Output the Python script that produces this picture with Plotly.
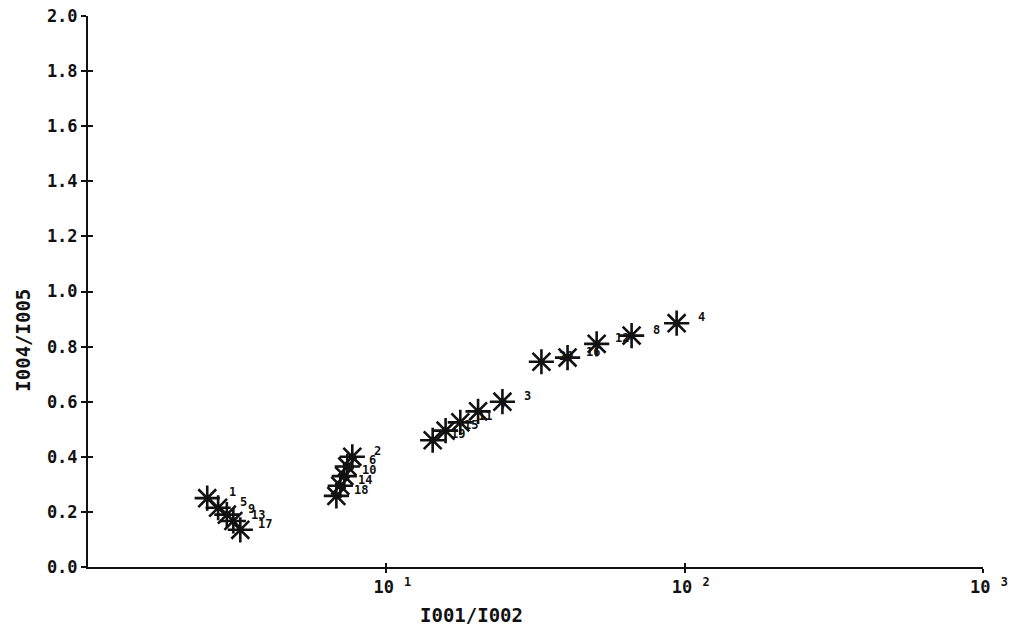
import numpy as np
import plotly.graph_objects as go

# data
labels = ["1", "5", "9", "13", "17",
          "2", "6", "10", "14", "18",
          "19", "15", "11", "7", "3",
          "20", "16", "12", "8", "4"]
ratio_x = [2.51, 2.73, 2.92, 3.07, 3.24,
           7.69, 7.40, 7.23, 7.01, 6.80,
           14.3, 15.8, 17.7, 20.3, 24.5,
           33.1, 40.5, 50.7, 66.4, 94.0]
ratio_y = [0.25, 0.215, 0.19, 0.167, 0.135,
           0.40, 0.365, 0.33, 0.295, 0.258,
           0.46, 0.495, 0.525, 0.565, 0.60,
           0.745, 0.76, 0.81, 0.84, 0.885]
y_ticks = [0.0, 0.2, 0.4, 0.6, 0.8, 1.0, 1.2, 1.4, 1.6, 1.8, 2.0]
x_ticks = [10, 100, 1000]
x_ticktext = ["<b>10 <sup>1</sup></b>", "<b>10 <sup>2</sup></b>", "<b>10 <sup>3</sup></b>"]

FONT = "DejaVu Sans Mono"
BLACK = "#111111"

fig = go.Figure()
fig.add_trace(go.Scatter(
    x=ratio_x, y=ratio_y, mode="markers",
    marker=dict(symbol="asterisk-open", size=21, color=BLACK,
                line=dict(color=BLACK, width=2.6)),
    showlegend=False, hoverinfo="skip"))

annotations = []
for xv, yv, t in zip(ratio_x, ratio_y, labels):
    annotations.append(dict(
        x=np.log10(xv), y=yv, xref="x", yref="y", text="<b>%s</b>" % t,
        showarrow=False, xshift=25, yshift=6,
        font=dict(family=FONT, size=12, color=BLACK)))

annotations.append(dict(
    x=0.428, y=-0.087, xref="paper", yref="paper", text="<b>I001/I002</b>",
    showarrow=False, xanchor="center", yanchor="middle",
    font=dict(family=FONT, size=19, color=BLACK)))
annotations.append(dict(
    x=-0.073, y=0.412, xref="paper", yref="paper", text="<b>I004/I005</b>",
    showarrow=False, textangle=-90, xanchor="center", yanchor="middle",
    font=dict(family=FONT, size=19, color=BLACK)))

fig.update_layout(
    width=1010, height=628,
    margin=dict(l=88, r=27, t=16, b=61),
    paper_bgcolor="white", plot_bgcolor="white",
    font=dict(family=FONT, color=BLACK),
    annotations=annotations,
    xaxis=dict(type="log", range=[0, 3], tickvals=x_ticks, ticktext=x_ticktext,
               showgrid=False, zeroline=False, showline=True,
               linecolor=BLACK, linewidth=2, ticks="outside", ticklen=4,
               tickwidth=2, tickcolor=BLACK, automargin=False,
               ticklabelshift=6,
               tickfont=dict(family=FONT, size=17, color=BLACK)),
    yaxis=dict(range=[0, 2.0], tickvals=y_ticks,
               ticktext=["<b>%.1f</b>" % v for v in y_ticks],
               showgrid=False, zeroline=False, showline=True,
               linecolor=BLACK, linewidth=2, ticks="outside", ticklen=5,
               tickwidth=2, tickcolor=BLACK, automargin=False,
               tickfont=dict(family=FONT, size=17, color=BLACK)),
    yaxis2=dict(range=[0, 2.0], overlaying="y", anchor="x", side="left",
                tickvals=y_ticks, showticklabels=False, showgrid=False,
                zeroline=False, showline=False, ticks="inside", ticklen=5,
                tickwidth=2, tickcolor=BLACK),
    xaxis2=dict(type="log", range=[0, 3], overlaying="x", anchor="y",
                side="bottom", tickvals=x_ticks, showticklabels=False,
                showgrid=False, zeroline=False, showline=False,
                ticks="inside", ticklen=4, tickwidth=2, tickcolor=BLACK),
)
# invisible trace to activate the inside-tick overlay axes
fig.add_trace(go.Scatter(x=[ratio_x[0]], y=[ratio_y[0]], xaxis="x2", yaxis="y2",
                         mode="markers", marker=dict(opacity=0),
                         showlegend=False, hoverinfo="skip"))

fig.write_html("out.html", config={"displayModeBar": False},
               post_script="document.body.style.margin='0';")
